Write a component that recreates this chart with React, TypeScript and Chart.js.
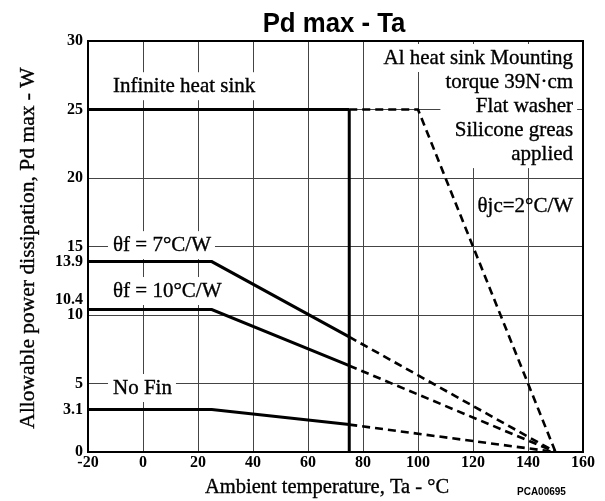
import React, { useEffect, useRef } from 'react';
import { Chart, registerables } from 'chart.js';

Chart.register(...registerables);

// ---- data ----
const xTickValues = [-20, 0, 20, 40, 60, 80, 100, 120, 140, 160];
const xGridValues = [0, 20, 40, 60, 80, 100, 120, 140];
const yTickValues = [0, 3.1, 5, 10, 10.4, 13.9, 15, 20, 25, 30];
const yGridValues = [5, 10, 15, 20, 25];

const infiniteX = [-20, 75, 100, 150];
const infiniteY = [25, 25, 25, 0];
const cutoffX = [75, 75];
const cutoffY = [0, 25];
const fin7X = [-20, 25, 75, 150];
const fin7Y = [13.9, 13.9, 8.4, 0];
const fin10X = [-20, 25, 75, 150];
const fin10Y = [10.4, 10.4, 6.3, 0];
const noFinX = [-20, 25, 75, 150];
const noFinY = [3.1, 3.1, 2.0, 0];
const dashFromX = 75;

const titleText = 'Pd max - Ta';
const xTitle = 'Ambient temperature, Ta - °C';
const yTitle = 'Allowable power dissipation, Pd max - W';
const codeText = 'PCA00695';

type Note = { lines: string[]; x: number; y: number; align: 'left' | 'right'; bg: boolean };
const notes: Note[] = [
  { lines: ['Infinite heat sink'], x: -10.9, y: 26.7, align: 'left', bg: true },
  { lines: ['θf = 7°C/W'], x: -10.9, y: 15.1, align: 'left', bg: true },
  { lines: ['θf = 10°C/W'], x: -10.9, y: 11.75, align: 'left', bg: true },
  { lines: ['No Fin'], x: -10.9, y: 4.67, align: 'left', bg: true },
  { lines: ['Al heat sink Mounting'], x: 156.4, y: 28.76, align: 'right', bg: true },
  { lines: ['torque 39N·cm', 'Flat washer', 'Silicone greas', 'applied'], x: 156.4, y: 27.0, align: 'right', bg: true },
  { lines: ['θjc=2°C/W'], x: 156.4, y: 17.9, align: 'right', bg: false },
];

const SERIF = '"Liberation Serif", "Times New Roman", serif';
const NOTE_FONT = `21px ${SERIF}`;
const LINE_H = 24;

function noteBoxes(chart: any, ctx: CanvasRenderingContext2D) {
  const xs = chart.scales.x;
  const ys = chart.scales.y;
  ctx.save();
  ctx.font = NOTE_FONT;
  const out: any[] = [];
  for (const n of notes) {
    const px = xs.getPixelForValue(n.x);
    const py = ys.getPixelForValue(n.y);
    let maxW = 0;
    n.lines.forEach((l) => (maxW = Math.max(maxW, ctx.measureText(l).width)));
    const left = n.align === 'left' ? px : px - maxW;
    out.push({ n, px, py, left, right: left + maxW });
  }
  ctx.restore();
  return out;
}

function heavyText(ctx: CanvasRenderingContext2D, t: string, x: number, y: number) {
  ctx.fillText(t, x, y);
  ctx.strokeText(t, x, y);
}

const overlayPlugin = {
  id: 'overlay',
  beforeDatasetsDraw(chart: any) {
    const ctx = chart.ctx as CanvasRenderingContext2D;
    const boxes = noteBoxes(chart, ctx);
    ctx.save();
    ctx.fillStyle = '#fff';
    for (const b of boxes) {
      if (!b.n.bg) continue;
      const top = b.py - 14;
      const h = (b.n.lines.length - 1) * LINE_H + 28;
      ctx.fillRect(b.left - 5, top, b.right - b.left + 9, h);
    }
    ctx.restore();
  },
  afterDatasetsDraw(chart: any) {
    const ctx = chart.ctx as CanvasRenderingContext2D;
    const a = chart.chartArea;
    ctx.save();
    ctx.strokeStyle = '#000';
    ctx.lineWidth = 2;
    ctx.strokeRect(a.left, a.top, a.right - a.left, a.bottom - a.top);
    const boxes = noteBoxes(chart, ctx);
    ctx.fillStyle = '#000';
    ctx.lineWidth = 0.35;
    ctx.font = NOTE_FONT;
    ctx.textBaseline = 'middle';
    for (const b of boxes) {
      ctx.textAlign = b.n.align;
      b.n.lines.forEach((l: string, i: number) => {
        heavyText(ctx, l, b.px, b.py + i * LINE_H);
      });
    }
    // title
    ctx.save();
    ctx.font = 'bold 28px "Liberation Sans", Arial, sans-serif';
    ctx.textAlign = 'center';
    ctx.textBaseline = 'alphabetic';
    ctx.translate(334, 32);
    ctx.scale(0.92, 1);
    ctx.fillText(titleText, 0, 0);
    ctx.restore();
    // axis titles
    ctx.textAlign = 'center';
    ctx.textBaseline = 'middle';
    ctx.font = `20.5px ${SERIF}`;
    heavyText(ctx, xTitle, 327, 488);
    ctx.save();
    ctx.translate(28, 248);
    ctx.rotate(-Math.PI / 2);
    ctx.font = `21.5px ${SERIF}`;
    heavyText(ctx, yTitle, 0, 0);
    ctx.restore();
    ctx.font = 'bold 10px "Liberation Sans", Arial, sans-serif';
    ctx.textAlign = 'left';
    ctx.fillText(codeText, 517, 492);
    ctx.restore();
  },
};

function curve(xs: number[], ys: number[], dashed: boolean) {
  return {
    data: xs.map((x, i) => ({ x, y: ys[i] })),
    borderColor: '#000',
    borderWidth: 3,
    pointRadius: 0,
    tension: 0,
    fill: false,
    segment: dashed
      ? {
          borderDash: (c: any) => (c.p0.parsed.x >= dashFromX ? [8, 5] : undefined),
          borderWidth: (c: any) => (c.p0.parsed.x >= dashFromX ? 2.6 : 3),
        }
      : undefined,
  };
}

export default function App() {
  const ref = useRef<HTMLCanvasElement | null>(null);
  useEffect(() => {
    if (!ref.current) return;
    const tickFont = { family: SERIF, size: 16, weight: 'bold' as const };
    const chart = new Chart(ref.current, {
      type: 'line',
      data: {
        datasets: [
          curve(infiniteX, infiniteY, true),
          curve(cutoffX, cutoffY, false),
          curve(fin7X, fin7Y, true),
          curve(fin10X, fin10Y, true),
          curve(noFinX, noFinY, true),
        ] as any,
      },
      options: {
        responsive: false,
        animation: false,
        devicePixelRatio: 1,
        layout: { padding: { left: 0, right: 22, top: 41, bottom: 0 } },
        plugins: {
          legend: { display: false },
          tooltip: { enabled: false },
          title: { display: false, text: titleText },
        },
        scales: {
          x: {
            type: 'linear',
            min: -20,
            max: 160,
            afterBuildTicks: (s: any) => {
              s.ticks = xTickValues.map((v) => ({ value: v }));
            },
            afterFit: (s: any) => {
              s.height = 49;
            },
            ticks: { autoSkip: false, maxRotation: 0, color: '#000', font: tickFont, padding: 1 },
            grid: {
              drawTicks: false,
              lineWidth: 1,
              color: (c: any) => (xGridValues.includes(c.tick?.value) ? '#444' : 'rgba(0,0,0,0)'),
            },
            border: { display: true, color: '#000', width: 2 },
          },
          y: {
            type: 'linear',
            min: 0,
            max: 30,
            afterBuildTicks: (s: any) => {
              s.ticks = yTickValues.map((v) => ({ value: v }));
            },
            afterFit: (s: any) => {
              s.width = 88;
            },
            ticks: {
              autoSkip: false,
              color: '#000',
              font: tickFont,
              padding: 5,
              callback: (v: any) => (Number(v) === 10.4 ? ['10.4', ''] : String(v)),
            },
            grid: {
              drawTicks: false,
              lineWidth: 1,
              color: (c: any) => (yGridValues.includes(c.tick?.value) ? '#444' : 'rgba(0,0,0,0)'),
            },
            border: { display: true, color: '#000', width: 2 },
          },
        },
      },
      plugins: [overlayPlugin],
    });
    return () => chart.destroy();
  }, []);
  return (
    <div style={{ position: 'absolute', left: 0, top: 0, width: 605, height: 501, background: '#fff' }}>
      <canvas ref={ref} width={605} height={501} />
    </div>
  );
}
